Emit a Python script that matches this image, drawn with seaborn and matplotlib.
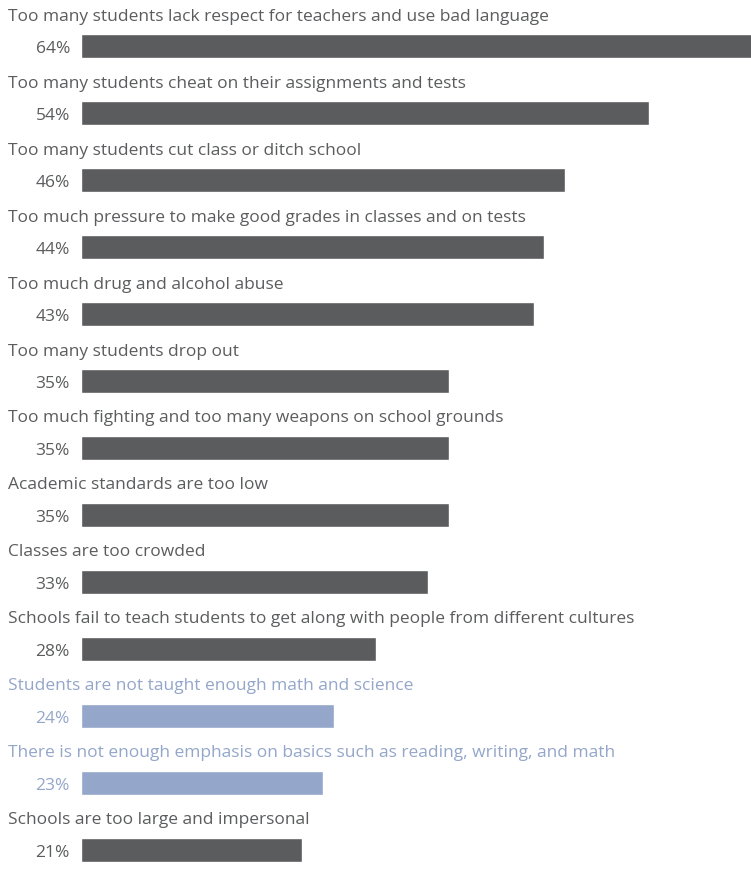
import matplotlib
matplotlib.use("Agg")
import matplotlib.pyplot as plt
import matplotlib.transforms as mtransforms
import seaborn as sns
import pandas as pd

# Survey items and shares (percent)
items = [
    "Too many students lack respect for teachers and use bad language",
    "Too many students cheat on their assignments and tests",
    "Too many students cut class or ditch school",
    "Too much pressure to make good grades in classes and on tests",
    "Too much drug and alcohol abuse",
    "Too many students drop out",
    "Too much fighting and too many weapons on school grounds",
    "Academic standards are too low",
    "Classes are too crowded",
    "Schools fail to teach students to get along with people from different cultures",
    "Students are not taught enough math and science",
    "There is not enough emphasis on basics such as reading, writing, and math",
    "Schools are too large and impersonal",
]
shares = [64, 54, 46, 44, 43, 35, 35, 35, 33, 28, 24, 23, 21]
highlight = [False] * 10 + [True, True] + [False]

GRAY = "#5b5c5e"
BLUE = "#94a6c9"

df = pd.DataFrame({"item": items, "share": shares,
                   "group": ["hl" if h else "base" for h in highlight]})

sns.set_style("white")
plt.rcParams["font.family"] = ["Open Sans", "DejaVu Sans"]

fig = plt.figure(figsize=(7.51, 8.74), dpi=100)
ax = fig.add_axes([81 / 751, 0, 670 / 751, 1])

sns.barplot(data=df, y="item", x="share", hue="group", orient="h",
            palette={"base": GRAY, "hl": BLUE}, width=0.36, dodge=False,
            legend=False, saturation=1, ax=ax)

# the longest bar runs slightly past the right edge
ax.set_xlim(0, 63.65)
ax.set_ylim(12.36, -0.687)
ax.axis("off")

trans = mtransforms.blended_transform_factory(fig.transFigure, ax.transData)
for i, (label, val, hl) in enumerate(zip(items, shares, highlight)):
    col = BLUE if hl else GRAY
    ax.text(8 / 751, i - 0.38, label, transform=trans, fontsize=12.5,
            color=col, va="baseline", ha="left", clip_on=False)
    ax.text(70 / 751, i + 0.105, f"{val}%", transform=trans, fontsize=12.5,
            color=col, va="baseline", ha="right", clip_on=False)

fig.savefig("out.png", dpi=100)
